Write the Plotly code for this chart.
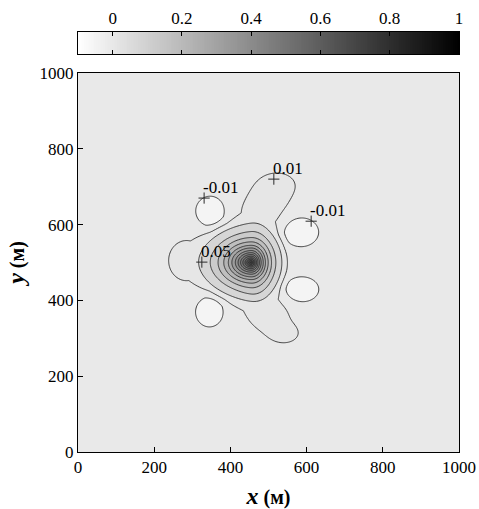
import numpy as np
import plotly.graph_objects as go

# ---------------- data ----------------
# main peak: centre and the 0.05-contour half-widths in each direction (m)
peak_x, peak_y = 455.0, 500.0
peak_r_left, peak_r_right, peak_r_up, peak_r_down = 131.0, 80.0, 98.0, 95.0
# radial profile of the peak (normalised distance -> value), read from ring spacing
prof_rho = [0.00, 0.025, 0.055, 0.09, 0.125, 0.17, 0.215, 0.265, 0.32, 0.39, 0.46, 0.55, 0.66, 0.80, 1.00, 1.15, 1.35, 9.0]
prof_val = [0.74, 0.70, 0.65, 0.60, 0.55, 0.50, 0.45, 0.40, 0.35, 0.30, 0.25, 0.20, 0.15, 0.10, 0.05, 0.012, 0.0, 0.0]

# low-level components: left lobe, upper arm (3), lower arm (3), four negative islands
comp_x   = [285.0, 476.0, 508.0, 526.0, 470.0, 505.0, 542.0, 347.0, 585.0, 587.0, 345.0]
comp_y   = [505.0, 625.0, 680.0, 708.0, 410.0, 355.0, 312.0, 635.0, 580.0, 429.0, 370.0]
comp_amp = [0.020, 0.021, 0.020, 0.018, 0.020, 0.020, 0.018, -0.040, -0.040, -0.040, -0.040]
comp_sx  = [40.0, 38.0, 38.0, 30.0, 37.0, 38.0, 30.0, 23.0, 28.0, 27.0, 22.0]
comp_sy  = [45.0, 35.0, 30.0, 20.0, 35.0, 30.0, 20.0, 24.0, 23.0, 20.0, 24.0]

# contour levels
low_levels = [-0.01, 0.01]
main_start, main_end, main_step = 0.05, 0.70, 0.05

# contour labels
label_x = [331.0, 514.0, 612.0, 325.0]
label_y = [670.0, 720.0, 609.0, 501.0]
label_text = ["-0.01", "0.01", "-0.01", "0.05"]

# axes
axis_ticks = [0, 200, 400, 600, 800, 1000]
cbar_ticks = [0, 0.2, 0.4, 0.6, 0.8, 1]
cbar_ticktext = ["0", "0.2", "0.4", "0.6", "0.8", "1"]
cbar_min, cbar_max = -0.1, 1.0

# ---------------- field on a grid ----------------
gx = np.linspace(0, 1000, 401)
gy = np.linspace(0, 1000, 401)
X, Y = np.meshgrid(gx, gy)
dx = X - peak_x
dy = Y - peak_y
rx = np.where(dx < 0, peak_r_left, peak_r_right)
ry = np.where(dy < 0, peak_r_down, peak_r_up)
rho = np.sqrt((dx / rx) ** 2 + (dy / ry) ** 2)
Z = np.interp(rho, prof_rho, prof_val)
for cx, cy, a, sxx, syy in zip(comp_x, comp_y, comp_amp, comp_sx, comp_sy):
    Z = Z + a * np.exp(-0.5 * (((X - cx) / sxx) ** 2 + ((Y - cy) / syy) ** 2))


def gray(v):
    g = 255 * (1 - (v - cbar_min) / (cbar_max - cbar_min))
    g = int(round(min(255, max(0, g))))
    return f"rgb({g},{g},{g})"


FONT = "Liberation Serif, Times New Roman, serif"
LINE = "#2a2a2a"
fig = go.Figure()

# base trace: -0.01 / 0.01 contours
fig.add_trace(go.Contour(
    x=gx, y=gy, z=Z, autocontour=False,
    contours=dict(start=low_levels[0], end=low_levels[1], size=low_levels[1] - low_levels[0],
                  coloring="fill", showlines=True),
    colorscale=[[0, "rgb(244,244,244)"], [0.5, "rgb(233,233,233)"], [1, "rgb(230,230,230)"]],
    line=dict(color=LINE, width=0.9, smoothing=1),
    showscale=False, hoverinfo="skip", xaxis="x", yaxis="y",
))

# main trace: 0.05 .. 0.70 (below 0.05 transparent)
lo = main_start - main_step / 2
hi = main_end + main_step / 2
p_cut = 0.03
fig.add_trace(go.Contour(
    x=gx, y=gy, z=Z, autocontour=False,
    contours=dict(start=main_start, end=main_end, size=main_step, coloring="fill", showlines=True),
    colorscale=[[0, "rgba(255,255,255,0)"], [p_cut, "rgba(255,255,255,0)"],
                [p_cut, gray(lo + p_cut * (hi - lo))], [1, gray(hi)]],
    line=dict(color=LINE, width=0.9, smoothing=1),
    showscale=False, hoverinfo="skip", xaxis="x", yaxis="y",
))

# label crosses and texts
fig.add_trace(go.Scatter(
    x=label_x, y=label_y, mode="markers",
    marker=dict(symbol="cross-thin", size=8, line=dict(color=LINE, width=1)),
    hoverinfo="skip", showlegend=False, xaxis="x", yaxis="y",
))
for lx, ly, t in zip(label_x, label_y, label_text):
    fig.add_annotation(x=lx, y=ly, xref="x", yref="y", text=t, showarrow=False,
                       xanchor="left", yanchor="bottom", xshift=-3, yshift=-1,
                       font=dict(family=FONT, size=17, color="black"))

# colour bar drawn as a heatmap on its own axes
cb_x = np.linspace(cbar_min, cbar_max, 221)
fig.add_trace(go.Heatmap(
    x=cb_x, y=[0], z=[cb_x], zmin=cbar_min, zmax=cbar_max,
    colorscale=[[0, "white"], [1, "black"]], showscale=False, hoverinfo="skip",
    xaxis="x2", yaxis="y2",
))

W, H = 479, 509
mt, mb, ml, mr = 32, 57, 78, 20
ph = H - mt - mb
main_top = (452 - 73) / ph
cb_bot = (452 - 54) / ph
tickfont = dict(family=FONT, size=17, color="black")

fig.update_layout(
    template="none",
    width=W, height=H,
    margin=dict(l=ml, r=mr, t=mt, b=mb, autoexpand=False),
    paper_bgcolor="white", plot_bgcolor="white",
    showlegend=False,
    font=dict(family=FONT, size=17, color="black"),
    xaxis=dict(domain=[0, 1], range=[0, 1000], tickvals=axis_ticks, ticks="inside", ticklen=5,
               tickcolor="black", tickfont=tickfont, showline=True, linecolor="black", linewidth=1,
               mirror=True, showgrid=False, zeroline=False, anchor="y", automargin=False,
               title=dict(text="<b><i>x</i><span style='font-size:20px'> (м)</span></b>",
                          font=dict(family=FONT, size=24), standoff=10)),
    yaxis=dict(domain=[0, main_top], range=[0, 1000], tickvals=axis_ticks, ticks="inside", ticklen=5,
               tickcolor="black", tickfont=tickfont, showline=True, linecolor="black", linewidth=1,
               mirror=True, showgrid=False, zeroline=False, anchor="x", automargin=False,
               title=dict(text="<b><i>y</i><span style='font-size:20px'> (м)</span></b>",
                          font=dict(family=FONT, size=24), standoff=8)),
    xaxis2=dict(domain=[0, 1], range=[cbar_min, cbar_max], anchor="y2", side="top",
                tickvals=cbar_ticks, ticktext=cbar_ticktext, ticks="inside", ticklen=4,
                tickcolor="black", tickfont=tickfont, showline=True, linecolor="black", linewidth=1,
                mirror="ticks", showgrid=False, zeroline=False, automargin=False),
    yaxis2=dict(domain=[cb_bot, 1], range=[-0.5, 0.5], anchor="x2", showticklabels=False,
                ticks="", showline=True, linecolor="black", linewidth=1, mirror=True,
                showgrid=False, zeroline=False, automargin=False),
)

fig.write_html("out.html")
